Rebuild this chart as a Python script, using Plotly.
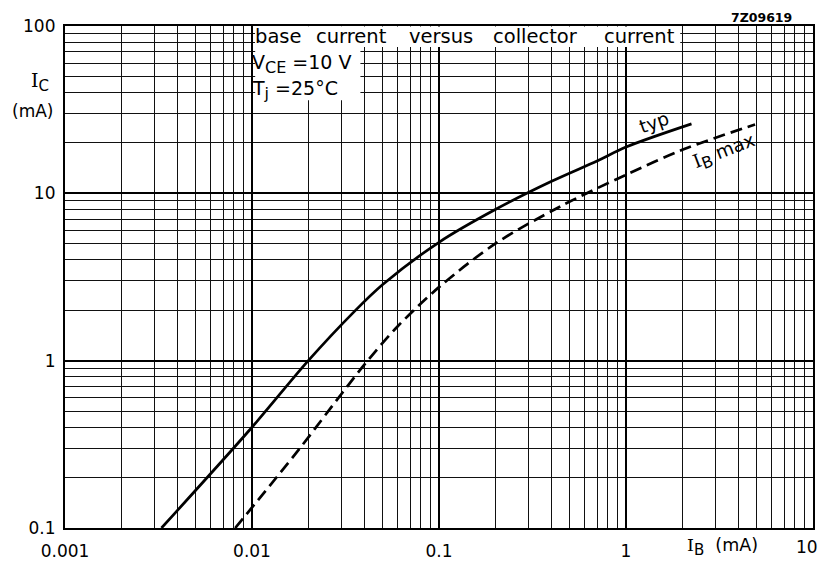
import plotly.graph_objects as go

# ---- data ----
typ_ib = [0.00328, 0.01, 0.02, 0.035, 0.05, 0.1, 0.2, 0.4, 0.7, 1.0, 2.24]
typ_ic = [0.1, 0.4, 1.0, 1.95, 2.85, 5.1, 8.0, 11.8, 15.6, 18.9, 26.0]

max_ib = [0.00813, 0.0177, 0.03, 0.04, 0.06, 0.1, 0.2, 0.45, 1.0, 2.0, 4.9]
max_ic = [0.1, 0.292, 0.63, 0.95, 1.6, 2.75, 5.0, 8.4, 12.9, 18.2, 25.8]

x_ticks = [0.001, 0.01, 0.1, 1, 10]
x_ticktext = ["0.001", "0.01", "0.1", "1", ""]
y_ticks = [0.1, 1, 10, 100]
y_ticktext = ["0.1", "1", "10", "100"]

x_minor = [m * d for d in [0.001, 0.01, 0.1, 1] for m in range(2, 10)]
y_minor = [m * d for d in [0.1, 1, 10] for m in range(2, 10)]

FONT = "DejaVu Sans"

fig = go.Figure()
fig.add_trace(go.Scatter(x=typ_ib, y=typ_ic, mode="lines",
                         line=dict(color="black", width=2.7, shape="spline", smoothing=0.9),
                         showlegend=False, hoverinfo="skip"))
fig.add_trace(go.Scatter(x=max_ib, y=max_ic, mode="lines",
                         line=dict(color="black", width=2.7, dash="12px,6px", shape="spline", smoothing=0.9),
                         showlegend=False, hoverinfo="skip"))

axis_common = dict(type="log", showline=True, linecolor="black", linewidth=2.2, mirror=True,
                   showgrid=True, gridcolor="black", gridwidth=2.1, zeroline=False, automargin=False,
                   ticks="", tickfont=dict(family=FONT, size=17, color="black"))

fig.update_xaxes(range=[-3, 1], tickmode="array", tickvals=x_ticks, ticktext=x_ticktext,
                 minor=dict(tickvals=x_minor, showgrid=True, gridcolor="#111111", gridwidth=1.4, ticks=""),
                 ticklabelstandoff=6, **axis_common)
fig.update_yaxes(range=[-1, 2], tickmode="array", tickvals=y_ticks, ticktext=y_ticktext,
                 minor=dict(tickvals=y_minor, showgrid=True, gridcolor="#111111", gridwidth=1.4, ticks=""),
                 ticklabelstandoff=4, **axis_common)

# white boxes behind the condition text
fig.add_shape(type="rect", xref="x", yref="y", x0=0.0104, x1=1.95, y0=75, y1=99.3,
              fillcolor="white", line=dict(width=0), layer="between")
fig.add_shape(type="rect", xref="x", yref="y", x0=0.0104, x1=0.038, y0=36, y1=99.3,
              fillcolor="white", line=dict(width=0), layer="between")

ann = []
def txt(x, y, s, size=18, xanchor="left", yanchor="middle", angle=0, xref="paper", yref="paper"):
    ann.append(dict(x=x, y=y, xref=xref, yref=yref, text=s, showarrow=False,
                    xanchor=xanchor, yanchor=yanchor, textangle=angle, borderpad=0,
                    font=dict(family=FONT, size=size, color="black")))

# pixel -> paper helpers (plot area 65..813 x, 26..528 y)
def px(xp):
    return (xp - 65) / 748.0
def py(yp):
    return (528 - yp) / 502.0

SI = "<span style='font-family:DejaVu Serif'>I</span>"
def sub(s, size=15):
    return "<sub><span style='font-size:%dpx'>%s</span></sub>" % (size, s)

# title words placed individually to reproduce the wide lettering
words = [("base", 254), ("current", 315), ("versus", 408), ("collector", 492), ("current", 603)]
for w, xp in words:
    txt(px(xp), py(37), w, size=19.5)
txt(px(251), py(64), "V" + sub("CE", 16) + " =10 V", size=19)
txt(px(251), py(90), "T" + sub("j", 16) + " =25°C", size=19)
txt(px(793), py(17), "<b>7Z09619</b>", size=12.5, xanchor="right")
txt(px(40), py(82), SI + sub("C"), size=19, xanchor="center")
txt(px(32), py(111), "(mA)", size=17, xanchor="center")
txt(px(722), py(547), SI + sub("B") + "  (mA)", size=17.5, xanchor="center")
txt(px(807), py(547), "10", size=17, xanchor="center")
txt(px(654), py(122), "typ", size=18.5, xanchor="center", angle=-19)
txt(px(724), py(152), SI + sub("B", 16) + " max", size=18.5, xanchor="center", angle=-21)

fig.update_layout(width=825, height=562, margin=dict(l=65, r=12, t=26, b=34, autoexpand=False),
                  paper_bgcolor="white", plot_bgcolor="white", annotations=ann,
                  font=dict(family=FONT, color="black"))

fig.write_html("out.html", config={"displayModeBar": False},
               post_script="document.body.style.margin='0';document.body.style.padding='0';"
                           "document.body.style.overflow='hidden';"
                           "document.documentElement.style.overflow='hidden';")
